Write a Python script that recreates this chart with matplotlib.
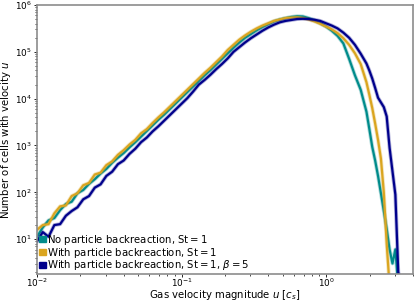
import numpy as np
import matplotlib
matplotlib.use("Agg")
import matplotlib.pyplot as plt
from matplotlib.patches import Patch

# log10 of bin centres (gas velocity magnitude u in c_s)
log_u = [-2.00, -1.96, -1.92, -1.88, -1.84, -1.80, -1.76, -1.72, -1.68, -1.64,
         -1.60, -1.56, -1.52, -1.48, -1.44, -1.40, -1.36, -1.32, -1.28, -1.24,
         -1.20, -1.16, -1.12, -1.08, -1.04, -1.00, -0.96, -0.92, -0.88, -0.84,
         -0.80, -0.76, -0.72, -0.68, -0.64, -0.60, -0.56, -0.52, -0.48, -0.44,
         -0.40, -0.36, -0.32, -0.28, -0.24, -0.20, -0.16, -0.12, -0.08, -0.04,
         0.00, 0.04, 0.08, 0.12, 0.16, 0.20, 0.24, 0.28, 0.30, 0.32,
         0.34, 0.36, 0.38, 0.40, 0.42, 0.44, 0.46, 0.48, 0.50, 0.52]

# log10 of number of cells per bin
log_n_noback = [1.05, 1.25, 1.40, 1.45, 1.62, 1.75, 1.80, 1.98, 2.05, 2.18,
                2.28, 2.40, 2.50, 2.63, 2.74, 2.84, 2.96, 3.07, 3.19, 3.31,
                3.43, 3.55, 3.66, 3.78, 3.90, 4.02, 4.14, 4.26, 4.38, 4.50,
                4.61, 4.73, 4.85, 4.97, 5.09, 5.20, 5.30, 5.38, 5.46, 5.53,
                5.59, 5.65, 5.69, 5.72, 5.745, 5.76, 5.755, 5.72, 5.67, 5.61,
                5.54, 5.45, 5.34, 5.18, 4.85, 4.50, 4.19, 3.72, 3.35, 2.97,
                2.68, 2.35, 1.98, 1.60, 1.22, 0.78, 0.48, 0.78, 0.0, 0.0]

log_n_back = [1.20, 1.30, 1.32, 1.55, 1.70, 1.72, 1.92, 1.98, 2.15, 2.20,
              2.38, 2.42, 2.58, 2.66, 2.80, 2.90, 3.02, 3.12, 3.26, 3.35,
              3.48, 3.60, 3.71, 3.83, 3.95, 4.07, 4.19, 4.31, 4.43, 4.55,
              4.66, 4.78, 4.90, 5.04, 5.15, 5.26, 5.35, 5.43, 5.50, 5.56,
              5.61, 5.66, 5.69, 5.72, 5.73, 5.735, 5.72, 5.69, 5.65, 5.60,
              5.54, 5.48, 5.40, 5.29, 5.15, 4.97, 4.74, 4.35, 4.08, 3.80,
              3.47, 3.12, 2.72, 2.00, 0.90, 0.0, 0.0, 0.0, 0.0, 0.0]

log_n_back_beta = [0.95, 1.15, 1.05, 1.30, 1.32, 1.50, 1.60, 1.68, 1.85, 1.92,
                   2.10, 2.17, 2.35, 2.44, 2.60, 2.68, 2.82, 2.93, 3.07, 3.17,
                   3.30, 3.41, 3.53, 3.65, 3.77, 3.89, 4.01, 4.15, 4.30, 4.40,
                   4.51, 4.63, 4.74, 4.86, 5.00, 5.10, 5.20, 5.29, 5.37, 5.45,
                   5.52, 5.58, 5.63, 5.66, 5.68, 5.70, 5.705, 5.70, 5.685, 5.66,
                   5.61, 5.56, 5.50, 5.41, 5.30, 5.15, 4.96, 4.75, 4.60, 4.43,
                   4.23, 4.02, 3.92, 3.82, 3.62, 2.95, 2.45, 1.95, 0.30, 0.0]

labels = [r"No particle backreaction, $\mathrm{St} = 1$",
          r"With particle backreaction, $\mathrm{St} = 1$",
          r"With particle backreaction, $\mathrm{St} = 1$, $\beta = 5$"]
colors = ["#008b8b", "#daa520", "#00008b"]

u = 10.0 ** np.array(log_u)
series = [log_n_noback, log_n_back, log_n_back_beta]

FS = 7.3
TFS = 6.4
fig = plt.figure(figsize=(4.15, 3.01), dpi=100)
ax = fig.add_axes([37/415, 27/301, 376/415, 269/301])

for ln, c in zip(series, colors):
    n = 10.0 ** np.array(ln)
    ax.plot(u, n, color=c, lw=2.8, alpha=0.3)
    ax.plot(u, n, color=c, lw=1.6)

ax.set_xscale("log")
ax.set_yscale("log")
ax.set_xlim(1e-2, 4.0)
ax.set_ylim(1.8, 1e6)
ax.tick_params(which="major", labelsize=TFS, pad=1.0, length=2.5, width=0.6)
ax.tick_params(which="minor", length=1.5, width=0.5)
ax.tick_params(axis="x", which="major", length=2.0, pad=0.0)
ax.set_xlabel(r"Gas velocity magnitude $u$ [$c_s$]", fontsize=FS)
ax.xaxis.set_label_coords(0.5, -0.052)
ax.set_ylabel(r"Number of cells with velocity $u$", fontsize=FS, labelpad=1.5)
for s in ax.spines.values():
    s.set_color("0.55")
    s.set_linewidth(1.2)

handles = [Patch(facecolor=c, edgecolor=c, alpha=1.0) for c in colors]
ax.legend(handles, labels, loc="lower left", fontsize=FS, frameon=False,
          borderpad=0.05, borderaxespad=0.1, labelspacing=-0.12,
          handlelength=0.7, handleheight=0.5, handletextpad=0.15)

fig.savefig("out.png", dpi=100)
